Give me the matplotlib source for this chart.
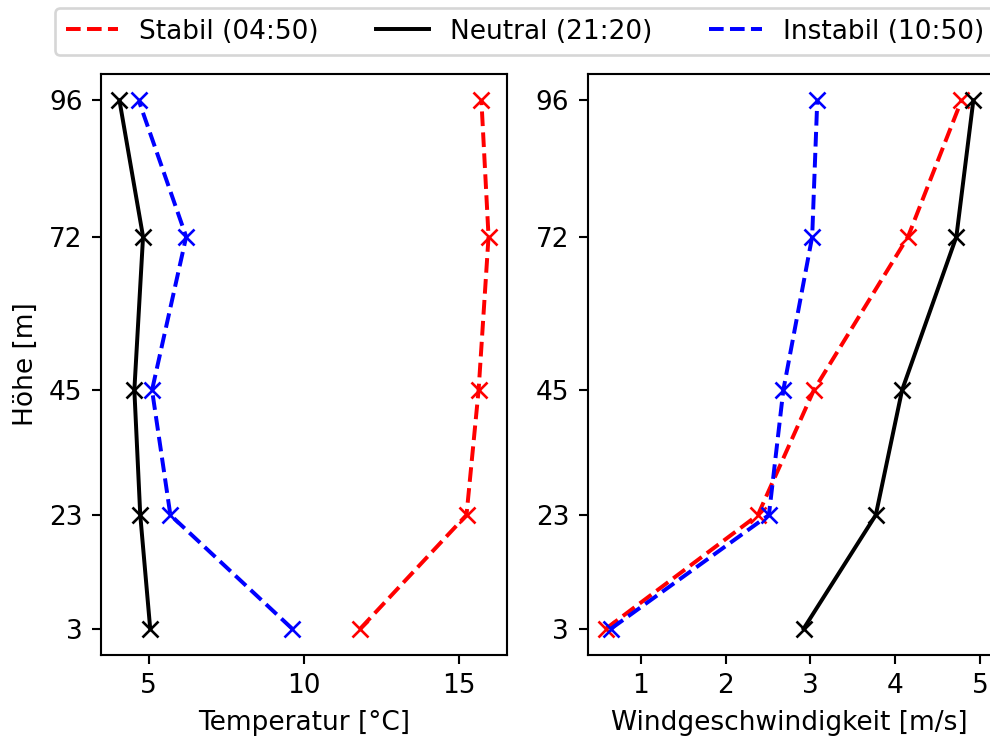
import matplotlib
matplotlib.use('Agg')
import matplotlib.pyplot as plt

# heights of the measurement levels
hoehe = [3, 23, 45, 72, 96]

# temperature profiles [°C]
temp_stabil = [11.82, 15.24, 15.63, 15.95, 15.72]
temp_neutral = [5.05, 4.73, 4.54, 4.82, 4.06]
temp_instabil = [9.62, 5.70, 5.11, 6.21, 4.68]

# wind speed profiles [m/s]
wind_stabil = [0.59, 2.38, 3.04, 4.15, 4.78]
wind_neutral = [2.92, 3.77, 4.08, 4.72, 4.92]
wind_instabil = [0.65, 2.51, 2.68, 3.02, 3.08]

labels = ['Stabil (04:50)', 'Neutral (21:20)', 'Instabil (10:50)']

W, H = 991, 738
DPI = 190
fig = plt.figure(figsize=(W / DPI, H / DPI), dpi=DPI)
ax1 = fig.add_axes([101 / W, 1 - 655 / H, 406 / W, 581 / H])
ax2 = fig.add_axes([587.7 / W, 1 - 655 / H, 404 / W, 581 / H])

styles = [dict(color='red', linestyle='--'),
          dict(color='black', linestyle='-'),
          dict(color='blue', linestyle='--')]

# lines carry the legend, markers drawn separately
for x, st, lab in zip([temp_stabil, temp_neutral, temp_instabil], styles, labels):
    ax1.plot(x, hoehe, label=lab, **st)
    ax1.plot(x, hoehe, marker='x', linestyle='none', color=st['color'])
for x, st in zip([wind_stabil, wind_neutral, wind_instabil], styles):
    ax2.plot(x, hoehe, **st)
    ax2.plot(x, hoehe, marker='x', linestyle='none', color=st['color'])

for ax in (ax1, ax2):
    ax.set_yticks(hoehe)
ax1.set_xticks([5, 10, 15])
ax2.set_xticks([1, 2, 3, 4, 5])

ax1.set_xlabel('Temperatur [°C]')
ax1.set_ylabel('Höhe [m]')
ax2.set_xlabel('Windgeschwindigkeit [m/s]')

fig.legend(loc='upper left', bbox_to_anchor=(55 / W, 1 - 8 / H), ncol=3,
           borderaxespad=0, columnspacing=2.15)

fig.savefig('out.png', dpi=DPI)
